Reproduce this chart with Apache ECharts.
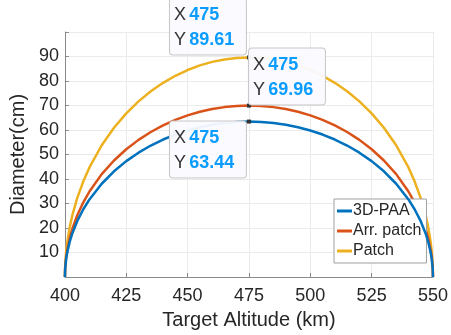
<!DOCTYPE html>
<html>
<head>
<meta charset="utf-8">
<script src="https://cdn.jsdelivr.net/npm/echarts@6/dist/echarts.min.js"></script>
<style>
  html, body { margin: 0; padding: 0; background: #fff; }
  #chart { width: 451px; height: 335px; }
</style>
</head>
<body>
<div id="chart"></div>
<script>
// altitude samples (km)
const altitude = [400, 400.1, 400.5, 401, 402, 403, 405, 407.5, 410, 415, 420, 425, 430, 435, 440, 445, 450, 455, 460, 465, 470,
  475, 480, 485, 490, 495, 500, 505, 510, 515, 520, 525, 530, 535, 540, 542.5, 545, 547, 548, 549, 549.5, 549.9, 550];

// diameters (cm)
const paa3d = [0, 3.27, 7.31, 10.33, 14.55, 17.76, 22.78, 27.65, 31.65, 38.06, 43.13, 47.29, 50.75, 53.66, 56.11, 58.14, 59.81, 61.14, 62.16, 62.87, 63.30,
  63.44, 63.30, 62.87, 62.16, 61.14, 59.81, 58.14, 56.11, 53.66, 50.75, 47.29, 43.13, 38.06, 31.65, 27.65, 22.78, 17.76, 14.55, 10.33, 7.31, 3.27, 0];
const arrPatch = [0, 3.61, 8.07, 11.39, 16.05, 19.59, 25.12, 30.49, 34.90, 41.98, 47.56, 52.15, 55.97, 59.18, 61.87, 64.12, 65.96, 67.43, 68.55, 69.34, 69.80,
  69.96, 69.80, 69.34, 68.55, 67.43, 65.96, 64.12, 61.87, 59.18, 55.97, 52.15, 47.56, 41.98, 34.90, 30.49, 25.12, 19.59, 16.05, 11.39, 8.07, 3.61, 0];
const patch = [0, 4.63, 10.33, 14.58, 20.56, 25.09, 32.17, 39.06, 44.71, 53.77, 60.92, 66.79, 71.69, 75.80, 79.25, 82.13, 84.48, 86.37, 87.80, 88.81, 89.41,
  89.61, 89.41, 88.81, 87.80, 86.37, 84.48, 82.13, 79.25, 75.80, 71.69, 66.79, 60.92, 53.77, 44.71, 39.06, 32.17, 25.09, 20.56, 14.58, 10.33, 4.63, 0];

const seriesNames = ["3D-PAA", "Arr. patch", "Patch"];
const yTickLabels = [10, 20, 30, 40, 50, 60, 70, 80, 90];
const xTickLabels = [400, 425, 450, 475, 500, 525, 550];

const font = "'Liberation Sans', Arial, sans-serif";
const colors = ["#0072BD", "#D95319", "#EDB120"];
const peak = 21; // index of the data tip (475 km)

function pairs(ys) {
  return altitude.map((x, i) => [x, ys[i]]);
}

// MATLAB style data tip
function dataTip(ys, offset) {
  return {
    symbol: "rect",
    symbolSize: 4,
    itemStyle: { color: "#333" },
    silent: true,
    data: [{
      coord: [altitude[peak], ys[peak]],
      label: {
        show: true,
        position: offset,
        align: "left",
        verticalAlign: "top",
        formatter: "{a|X} {b|" + altitude[peak] + "}\n{a|Y} {b|" + ys[peak].toFixed(2) + "}",
        backgroundColor: "rgba(250,250,255,0.95)",
        borderColor: "#c8c8c8",
        borderWidth: 1,
        borderRadius: 3,
        padding: [4, 4, 2, 4],
        width: 68,
        lineHeight: 25,
        rich: {
          a: { fontFamily: font, fontSize: 18, color: "#333", lineHeight: 25 },
          b: { fontFamily: font, fontSize: 18, fontWeight: "bold", color: "#0a9cff", lineHeight: 25 }
        }
      }
    }]
  };
}

const chart = echarts.init(document.getElementById("chart"));
chart.setOption({
  animation: false,
  backgroundColor: "#fff",
  grid: { left: 58, right: 17, top: 32, bottom: 58 },
  legend: {
    orient: "vertical",
    left: 334,
    top: 199,
    width: 95,
    padding: [4, 5, 4, 3],
    itemGap: 4,
    itemWidth: 15,
    itemHeight: 3,
    icon: "rect",
    backgroundColor: "#fff",
    borderColor: "#a0a0a0",
    borderWidth: 1,
    textStyle: { fontFamily: font, fontSize: 16, color: "#262626", padding: [0, 0, 0, -4] },
    data: seriesNames
  },
  xAxis: {
    type: "value",
    min: 400,
    max: 550,
    interval: 25,
    name: "Target Altitude (km)",
    nameLocation: "middle",
    nameGap: 33,
    nameTextStyle: { fontFamily: font, fontSize: 20, color: "#262626" },
    axisLine: { lineStyle: { color: "#8a8a8a", width: 1 } },
    axisTick: { inside: true, length: 4, lineStyle: { color: "#8a8a8a" } },
    axisLabel: {
      fontFamily: font, fontSize: 18, color: "#262626", margin: 10,
      formatter: v => xTickLabels.includes(v) ? String(v) : ""
    },
    splitLine: { show: true, lineStyle: { color: "#ebebeb", width: 1 } }
  },
  yAxis: {
    type: "value",
    min: 0,
    max: 100,
    interval: 10,
    name: "Diameter(cm)",
    nameLocation: "middle",
    nameGap: 34,
    nameTextStyle: { fontFamily: font, fontSize: 20, color: "#262626" },
    axisLine: { show: true, lineStyle: { color: "#8a8a8a", width: 1 } },
    axisTick: { show: true, inside: true, length: 4, lineStyle: { color: "#8a8a8a" } },
    axisLabel: {
      fontFamily: font, fontSize: 18, color: "#262626", margin: 6,
      formatter: v => yTickLabels.includes(v) ? String(v) : ""
    },
    splitLine: { show: true, lineStyle: { color: "#ebebeb", width: 1 } }
  },
  series: [
    {
      name: seriesNames[0], type: "line", data: pairs(paa3d), showSymbol: false,
      lineStyle: { color: colors[0], width: 2.5 }, itemStyle: { color: colors[0] },
      markPoint: dataTip(paa3d, [-77, 2]), z: 4
    },
    {
      name: seriesNames[1], type: "line", data: pairs(arrPatch), showSymbol: false,
      lineStyle: { color: colors[1], width: 2.5 }, itemStyle: { color: colors[1] },
      markPoint: dataTip(arrPatch, [2, -55]), z: 3
    },
    {
      name: seriesNames[2], type: "line", data: pairs(patch), showSymbol: false,
      lineStyle: { color: colors[2], width: 2.5 }, itemStyle: { color: colors[2] },
      markPoint: dataTip(patch, [-77, -57]), z: 2
    }
  ]
});
</script>
</body>
</html>
